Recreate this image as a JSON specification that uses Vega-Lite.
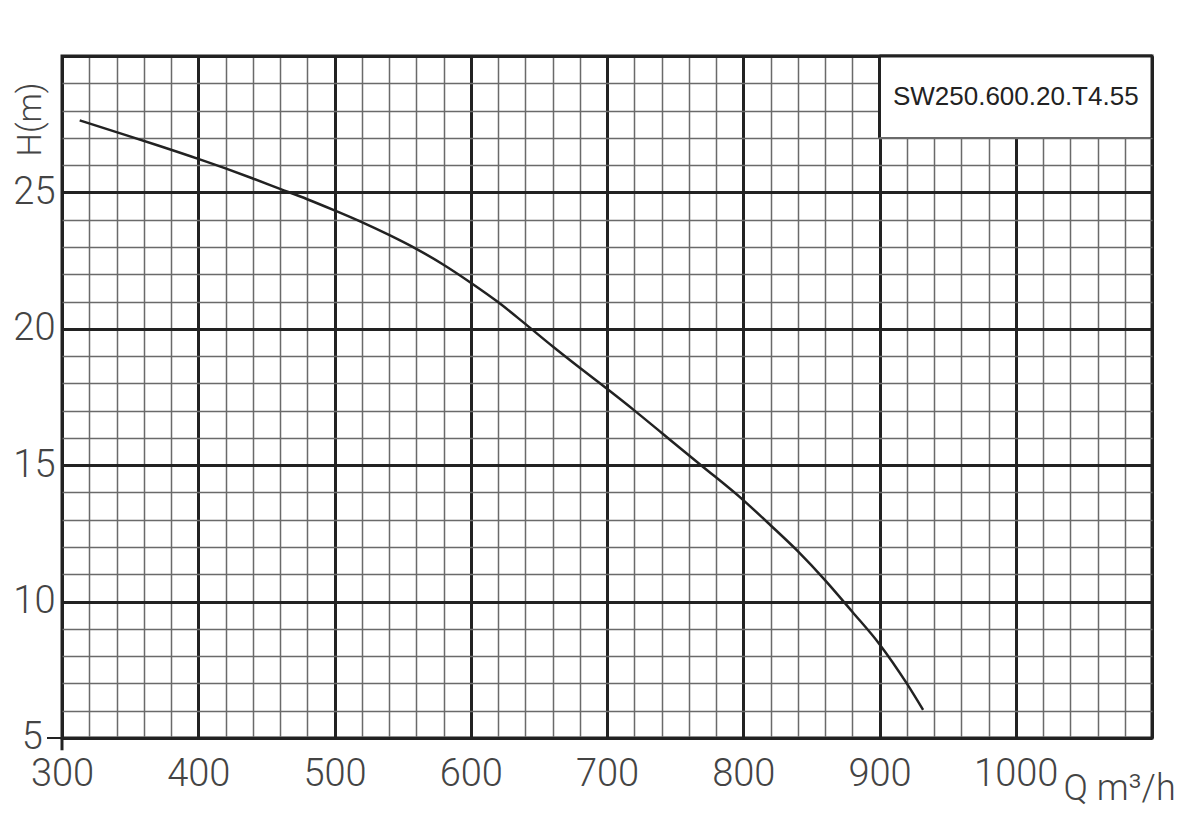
{
  "$schema": "https://vega.github.io/schema/vega-lite/v6.json",
  "width": 1090,
  "height": 682,
  "autosize": {"type": "none"},
  "padding": {"left": 62, "top": 56, "right": 48, "bottom": 94},
  "background": "white",
  "config": {
    "view": {"stroke": "#222", "strokeWidth": 3},
    "axis": {"labelFont": "Roboto", "labelFontWeight": 300, "labelColor": "#444", "titleFont": "Roboto", "titleFontWeight": 300, "titleColor": "#444"}
  },
  "data": {
    "values": [
      {"Q": 313, "H": 27.64},
      {"Q": 340, "H": 27.21},
      {"Q": 370, "H": 26.73},
      {"Q": 400, "H": 26.23},
      {"Q": 420, "H": 25.88},
      {"Q": 440, "H": 25.51},
      {"Q": 460, "H": 25.13},
      {"Q": 480, "H": 24.75},
      {"Q": 500, "H": 24.34},
      {"Q": 520, "H": 23.91},
      {"Q": 540, "H": 23.44},
      {"Q": 560, "H": 22.93},
      {"Q": 580, "H": 22.35},
      {"Q": 600, "H": 21.69},
      {"Q": 620, "H": 20.98},
      {"Q": 640, "H": 20.18},
      {"Q": 660, "H": 19.36},
      {"Q": 680, "H": 18.57},
      {"Q": 700, "H": 17.8},
      {"Q": 720, "H": 17.01},
      {"Q": 740, "H": 16.19},
      {"Q": 769, "H": 15.0},
      {"Q": 800, "H": 13.72},
      {"Q": 820, "H": 12.8},
      {"Q": 840, "H": 11.85},
      {"Q": 860, "H": 10.79},
      {"Q": 880, "H": 9.63},
      {"Q": 900, "H": 8.44},
      {"Q": 920, "H": 7.0},
      {"Q": 932, "H": 6.03}
    ]
  },
  "encoding": {
    "x": {
      "field": "Q", "type": "quantitative",
      "scale": {"domain": [300, 1100], "nice": false, "zero": false},
      "axis": {
        "values": [300,320,340,360,380,400,420,440,460,480,500,520,540,560,580,600,620,640,660,680,700,720,740,760,780,800,820,840,860,880,900,920,940,960,980,1000,1020,1040,1060,1080,1100],
        "labelExpr": "datum.value % 100 === 0 && datum.value < 1100 ? datum.value : ''",
        "labelOverlap": false, "labelBound": false, "labelFlush": false,
        "labelFontSize": 38, "labelPadding": 17,
        "ticks": false, "domain": false, "grid": true,
        "gridColor": {"condition": {"test": "datum.value % 100 === 0", "value": "#222"}, "value": "#6a6a6a"},
        "gridWidth": {"condition": {"test": "datum.value % 100 === 0", "value": 3}, "value": 1.5},
        "title": "Q m³/h", "titleFontSize": 36,
        "titleX": 1001, "titleY": 61, "titleAlign": "left", "titleBaseline": "alphabetic", "titleAnchor": null
      }
    },
    "y": {
      "field": "H", "type": "quantitative",
      "scale": {"domain": [5, 30], "nice": false, "zero": false},
      "axis": {
        "values": [5,6,7,8,9,10,11,12,13,14,15,16,17,18,19,20,21,22,23,24,25,26,27,28,29,30],
        "labelExpr": "datum.value % 5 === 0 && datum.value > 5 && datum.value < 30 ? datum.value : ''",
        "labelOverlap": false, "labelBound": false, "labelFlush": false,
        "labelFontSize": 38, "labelPadding": 7, "labelBaseline": "middle",
        "ticks": false, "domain": false, "grid": true,
        "gridColor": {"condition": {"test": "datum.value % 5 === 0", "value": "#222"}, "value": "#6a6a6a"},
        "gridWidth": {"condition": {"test": "datum.value % 5 === 0", "value": 3}, "value": 1.5},
        "title": "H(m)", "titleFontSize": 33, "titleAngle": 270,
        "titleX": -32, "titleY": 63, "titleAlign": "center", "titleBaseline": "middle", "titleAnchor": null
      }
    }
  },
  "layer": [
    {
      "transform": [{"filter": "datum.Q === 313"}],
      "mark": {"type": "rect", "color": "white", "opacity": 1},
      "encoding": {"x": {"datum": 900}, "x2": {"datum": 1100}, "y": {"datum": 27}, "y2": {"datum": 30}}
    },
    {
      "transform": [{"filter": "datum.Q === 313"}],
      "mark": {"type": "rule", "color": "#222", "strokeWidth": 3},
      "encoding": {"x": {"datum": 900}, "y": {"datum": 27}, "y2": {"datum": 30}}
    },
    {
      "transform": [{"filter": "datum.Q === 313"}],
      "mark": {"type": "rule", "color": "#6a6a6a", "strokeWidth": 1.5},
      "encoding": {"x": {"datum": 900}, "x2": {"datum": 1100}, "y": {"datum": 27}}
    },
    {
      "transform": [{"filter": "datum.Q === 313"}],
      "mark": {"type": "rule", "color": "#222", "strokeWidth": 3},
      "encoding": {"x": {"datum": 900}, "x2": {"datum": 1100}, "y": {"datum": 30}}
    },
    {
      "transform": [{"filter": "datum.Q === 313"}],
      "mark": {"type": "rule", "color": "#222", "strokeWidth": 3},
      "encoding": {"x": {"datum": 1100}, "y": {"datum": 27}, "y2": {"datum": 30}}
    },
    {
      "transform": [{"filter": "datum.Q === 313"}],
      "mark": {"type": "rule", "color": "#222", "strokeWidth": 3},
      "encoding": {"x": {"datum": 300}, "y": {"datum": 5}, "y2": {"datum": 4.55}}
    },
    {
      "transform": [{"filter": "datum.Q === 313"}],
      "mark": {"type": "rule", "color": "#222", "strokeWidth": 2},
      "encoding": {"x": {"datum": 289}, "x2": {"datum": 300}, "y": {"datum": 5}}
    },
    {
      "transform": [{"filter": "datum.Q === 313"}],
      "mark": {"type": "text", "font": "Roboto", "fontWeight": 300, "fontSize": 38, "color": "#444", "align": "right", "baseline": "middle"},
      "encoding": {"x": {"datum": 286}, "y": {"datum": 5}, "text": {"value": "5"}}
    },
    {
      "transform": [{"filter": "datum.Q === 313"}],
      "mark": {"type": "text", "font": "Liberation Sans", "fontSize": 26, "color": "#222", "align": "center", "baseline": "middle"},
      "encoding": {"x": {"datum": 1000}, "y": {"datum": 28.5}, "text": {"value": "SW250.600.20.T4.55"}}
    },
    {
      "mark": {"type": "line", "color": "#222", "strokeWidth": 2.5, "interpolate": "monotone"},
      "encoding": {}
    }
  ]
}
